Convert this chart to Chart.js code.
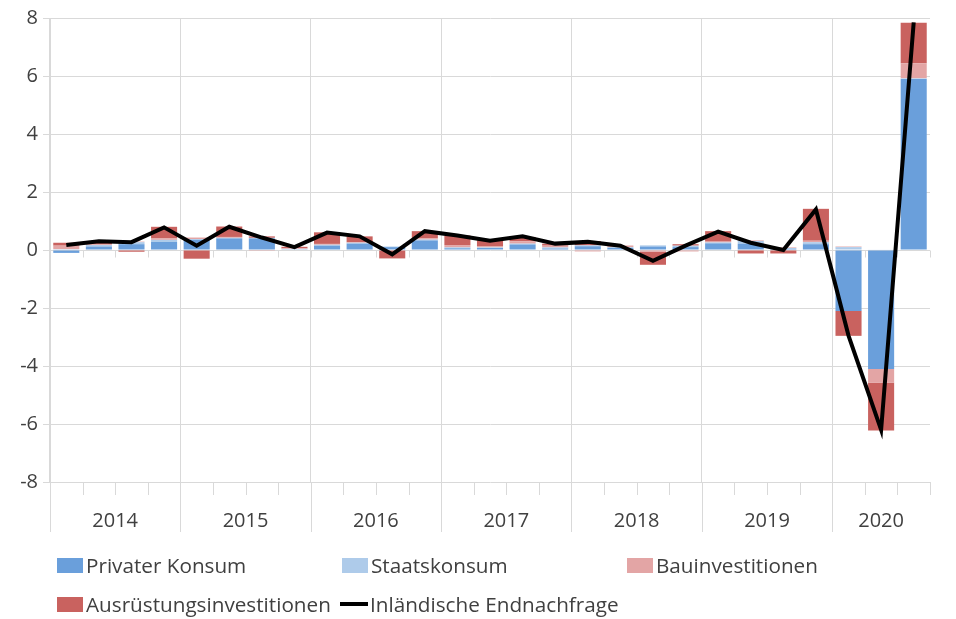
<!DOCTYPE html>
<html>
<head>
<meta charset="utf-8">
<script src="https://cdn.jsdelivr.net/npm/chart.js@4.4.1/dist/chart.umd.min.js"></script>
<style>
body { margin: 0; background: #fff; }
#wrap { position: relative; width: 956px; height: 619px; }
#legend { position: absolute; left: 0; top: 0; width: 956px; height: 619px; font-family: "Open Sans", sans-serif; font-size: 20.7px; color: #404040; }
.item { position: absolute; display: flex; align-items: center; white-space: nowrap; height: 24px; }
.box { width: 26px; height: 15px; margin-right: 3px; }
.ln { width: 28px; height: 4px; background: #000; margin-right: 2px; }
</style>
</head>
<body>
<div id="wrap">
  <canvas id="chart" width="956" height="619"></canvas>
  <div id="legend"></div>
</div>
<script>
// Beiträge zum Wachstum (Prozentpunkte), Quartale 2014Q1 - 2020Q3
var years = ['2014', '2015', '2016', '2017', '2018', '2019', '2020'];
var quartersPerYear = [4, 4, 4, 4, 4, 4, 3];

var privaterKonsum = [-0.1, 0.12, 0.2, 0.28, 0.35, 0.4, 0.4, 0.02, 0.15, 0.22, 0.1, 0.33, 0.06, 0.07, 0.19, 0.05, 0.13, 0.07, 0.12, 0.1, 0.23, 0.22, 0.04, 0.2, -2.1, -4.1, 5.9];
var staatskonsum = [0.03, 0.05, 0.07, 0.07, 0.03, 0.02, 0.02, 0.02, 0.03, 0.03, 0.02, 0.03, 0.03, 0.02, 0.03, 0.04, 0.03, 0.03, 0.04, 0.05, 0.03, 0.09, 0.03, 0.07, 0.1, 0.02, 0.02];
var bauinvestitionen = [0.12, 0.03, 0.02, 0.05, 0.05, 0.03, -0.03, 0.02, 0.03, 0.02, -0.02, 0.04, 0.08, 0.03, 0.08, 0.06, -0.05, 0.04, -0.06, -0.05, 0.03, 0.02, 0.02, 0.05, 0.02, -0.48, 0.52];
var ausruestung = [0.1, 0.08, -0.06, 0.4, -0.3, 0.36, 0.05, 0.05, 0.4, 0.2, -0.27, 0.25, 0.33, 0.22, 0.15, 0.07, 0.15, 0.01, -0.45, 0.05, 0.36, -0.12, -0.12, 1.1, -0.86, -1.64, 1.4];
var endnachfrage = [0.17, 0.3, 0.27, 0.78, 0.15, 0.8, 0.43, 0.1, 0.6, 0.47, -0.15, 0.65, 0.5, 0.32, 0.47, 0.22, 0.28, 0.15, -0.37, 0.15, 0.63, 0.25, 0.0, 1.4, -2.95, -6.2, 7.85];

var yTicks = [-8, -6, -4, -2, 0, 2, 4, 6, 8];

var gridColor = '#d9d9d9';
var textColor = '#404040';
var fontFamily = '"Open Sans", sans-serif';

var quarters = [];
var yearStarts = [];
years.forEach(function (y, i) {
    yearStarts.push(quarters.length);
    for (var q = 1; q <= quartersPerYear[i]; q++) quarters.push(y + 'Q' + q);
});

// Jahresbeschriftung und Teilstriche unter der Achse
var yearAxis = {
    id: 'yearAxis',
    beforeDatasetsDraw: function (chart) {
        var x = chart.scales.x, y = chart.scales.y, ctx = chart.ctx;
        var y0 = Math.round(y.getPixelForValue(0)) + 0.5;
        var bottom = chart.chartArea.bottom;
        ctx.save();
        ctx.strokeStyle = gridColor;
        ctx.lineWidth = 1;
        ctx.beginPath();
        for (var i = 0; i <= quarters.length; i++) {
            var px = Math.round(x.getPixelForValue(i - 0.5)) + 0.5;
            ctx.moveTo(px, y0);
            ctx.lineTo(px, y0 + 7);
            ctx.moveTo(px, bottom);
            ctx.lineTo(px, bottom + (yearStarts.indexOf(i) >= 0 ? 50 : 13));
        }
        ctx.stroke();
        ctx.fillStyle = textColor;
        ctx.font = '20px ' + fontFamily;
        ctx.textAlign = 'center';
        ctx.textBaseline = 'middle';
        years.forEach(function (yr, k) {
            var a = x.getPixelForValue(yearStarts[k] - 0.5);
            var b = x.getPixelForValue(yearStarts[k] + quartersPerYear[k] - 0.5);
            ctx.fillText(yr, (a + b) / 2, bottom + 39);
        });
        ctx.restore();
    }
};

var chart = new Chart(document.getElementById('chart').getContext('2d'), {
    type: 'bar',
    data: {
        labels: quarters,
        datasets: [{
            label: 'Inländische Endnachfrage',
            type: 'line',
            data: endnachfrage,
            borderColor: '#000000',
            backgroundColor: '#000000',
            borderWidth: 4,
            pointRadius: 0,
            tension: 0,
            stack: 'line',
            order: 0
        }, {
            label: 'Privater Konsum',
            data: privaterKonsum,
            backgroundColor: '#6a9fdb',
            stack: 'a',
            order: 1
        }, {
            label: 'Staatskonsum',
            data: staatskonsum,
            backgroundColor: '#aecbea',
            stack: 'a',
            order: 1
        }, {
            label: 'Bauinvestitionen',
            data: bauinvestitionen,
            backgroundColor: '#e3a5a5',
            stack: 'a',
            order: 1
        }, {
            label: 'Ausrüstungsinvestitionen',
            data: ausruestung,
            backgroundColor: '#c9625f',
            stack: 'a',
            order: 1
        }]
    },
    options: {
        responsive: false,
        animation: false,
        categoryPercentage: 0.8,
        barPercentage: 1,
        layout: { padding: { top: 18, right: 26, left: 0, bottom: 0 } },
        plugins: { legend: { display: false }, tooltip: { enabled: false } },
        scales: {
            x: {
                stacked: true,
                grid: {
                    offset: true,
                    drawTicks: false,
                    color: function (c) {
                        return (c.index !== undefined && yearStarts.indexOf(c.index) >= 0) ? gridColor : 'rgba(0,0,0,0)';
                    }
                },
                border: { display: false },
                ticks: { display: false },
                afterFit: function (s) { s.height = 137; }
            },
            y: {
                stacked: true,
                min: -8,
                max: 8,
                afterBuildTicks: function (s) { s.ticks = yTicks.map(function (v) { return { value: v }; }); },
                ticks: { padding: 5, color: textColor, font: { family: fontFamily, size: 20 } },
                grid: { color: gridColor, tickLength: 7 },
                border: { color: gridColor },
                afterFit: function (s) { s.width = 50; }
            }
        }
    },
    plugins: [yearAxis]
});

// Legende in Excel-Anordnung (3 Spalten)
var legendOrder = [1, 2, 3, 4, 0];
var legendPos = [[57, 553], [342, 553], [627, 553], [57, 592], [340, 592]];
var legend = document.getElementById('legend');
legendOrder.forEach(function (di, k) {
    var ds = chart.data.datasets[di];
    var item = document.createElement('div');
    item.className = 'item';
    item.style.left = legendPos[k][0] + 'px';
    item.style.top = legendPos[k][1] + 'px';
    var mark = document.createElement('span');
    if (ds.type === 'line') {
        mark.className = 'ln';
    } else {
        mark.className = 'box';
        mark.style.background = ds.backgroundColor;
    }
    item.appendChild(mark);
    item.appendChild(document.createTextNode(ds.label));
    legend.appendChild(item);
});
</script>
</body>
</html>
